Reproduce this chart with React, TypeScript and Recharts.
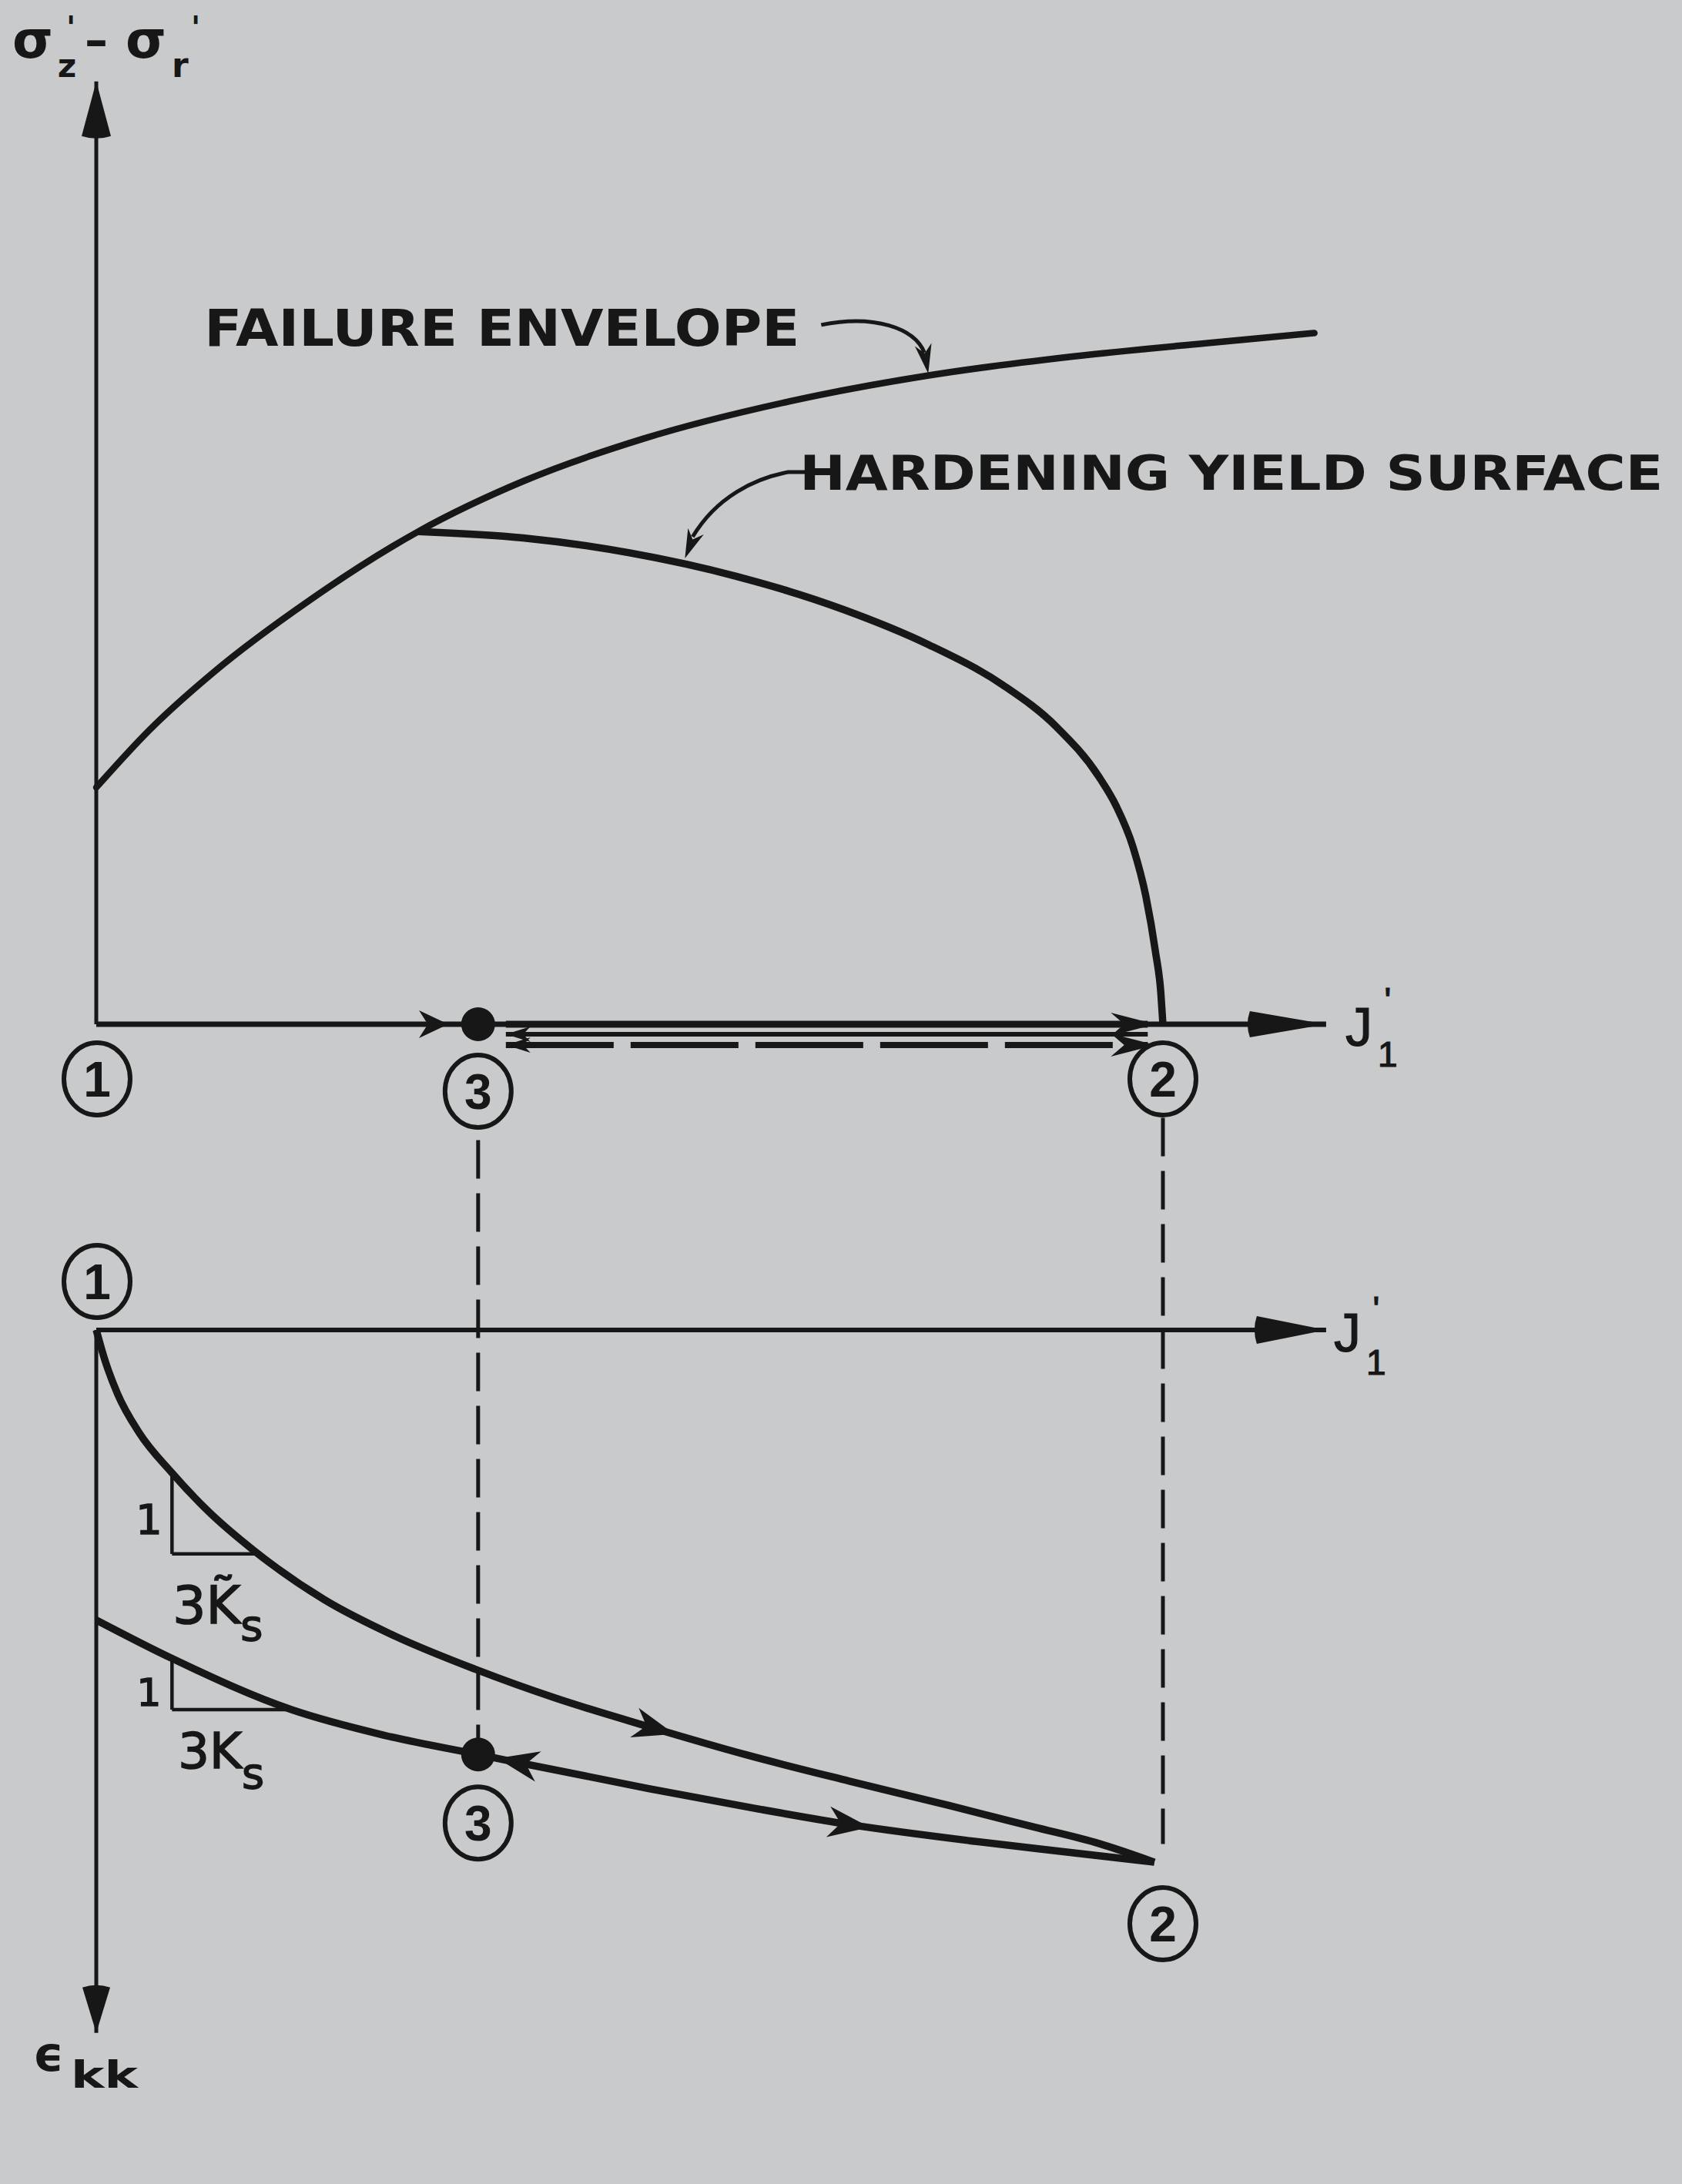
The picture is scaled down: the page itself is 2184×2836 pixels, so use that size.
import React from "react";
import { ComposedChart, Line, XAxis, YAxis, ReferenceLine, ReferenceDot } from "recharts";

const W = 2184;
const H = 2836;
const PX = 13.85; // pixels per unit, identical on every axis
const X0 = 125; // pixel column of J'1 = 0
const Q0 = 1330; // pixel row of the stress origin (upper diagram)
const E0 = 1727; // pixel row of the strain origin (lower diagram)

const INK = "#171717";
const PAPER = "#c8cacc";
const LETTER = "'DejaVu Sans', sans-serif";
const MATH = "'Liberation Sans', Arial, sans-serif";

// upper diagram: sigma'z - sigma'r against J'1
const envelopeJ = [0, 5, 11, 20, 30.2, 40, 51.3, 65, 78.5, 91.5, 104, 114.2];
const envelopeQ = [22.2, 27.6, 33.0, 39.75, 46.2, 50.9, 54.9, 58.4, 60.9, 62.6, 63.85, 64.8];

const yieldJ = [30.2, 40, 50, 60, 70, 78, 85, 90, 94, 95.6, 97.2, 98.4, 99.3, 99.8, 100];
const yieldQ = [46.2, 45.6, 44.2, 42.0, 38.9, 35.6, 31.8, 27.9, 23.2, 20.5, 16.6, 12.0, 6.8, 3.0, 0];

// lower diagram: volumetric strain (plotted downward) against J'1
const loadingJ = [0, 0.8, 2, 4, 7.1, 10.5, 14.8, 21.4, 28, 35.5, 43, 51.8, 61, 70.6, 80, 87.9, 94, 99.2];
const loadingE = [0, 2.8, 6.0, 9.6, 13.4, 17.0, 20.7, 25.3, 28.7, 31.8, 34.5, 37.2, 39.85, 42.3, 44.6, 46.6, 48.15, 49.9];

const elasticJ = [0, 7.1, 18.3, 27, 35.8, 51.8, 62, 70.8, 82, 91, 99.2];
const elasticE = [27.2, 30.8, 35.6, 38.0, 39.8, 43.0, 44.9, 46.4, 47.9, 48.95, 49.9];

// states 1, 2, 3
const stateJ = [0, 100, 35.8];
const stateE = [0, 49.9, 39.8];

// axis extents
const J_MAX = 115.3;
const Q_MAX = 88.4;
const E_MAX = 65.9;

// 3 -> 2 -> 3 path drawn beside the J'1 axis
const cycleJ = [38.4, 99.3];

// slope triangles (J of vertical leg / right corner, e of top / bottom)
const tildeTriJ = [7.1, 14.8];
const tildeTriE = [13.4, 21.0];
const elasticTriJ = [7.1, 18.3];
const elasticTriE = [30.8, 35.6];

// projection lines between the diagrams
const guideJ = [35.8, 100];
const guideTop = [-17.8, -19.9];
const guideBottom = [39.8, 48.2];

const X_DOMAIN = [-X0 / PX, (W - X0) / PX];
const Q_DOMAIN = [-(H - Q0) / PX, Q0 / PX];
const E_DOMAIN = [-E0 / PX, (H - E0) / PX];

const zip = (xs: number[], ys: number[], key: string) => xs.map((J, i) => ({ J, [key]: ys[i] }));

const envelope = zip(envelopeJ, envelopeQ, "q");
const yieldSurface = zip(yieldJ, yieldQ, "q");
const loading = zip(loadingJ, loadingE, "e");
const elastic = zip(elasticJ, elasticE, "e");

// position and direction on a polyline at a given J (axes share one scale)
function along(xs: number[], ys: number[], J: number) {
  let i = 0;
  while (i < xs.length - 2 && xs[i + 1] < J) i++;
  const t = (J - xs[i]) / (xs[i + 1] - xs[i]);
  const y = ys[i] + t * (ys[i + 1] - ys[i]);
  const deg = (Math.atan2(ys[i + 1] - ys[i], xs[i + 1] - xs[i]) * 180) / Math.PI;
  return { y, deg };
}

const notchedHead = (L: number, w: number) => `M0,0 L${-L},${-w} L${-L * 0.7},0 L${-L},${w} Z`;
const taperedHead = (L: number, w: number) => `M0,0 L${-L},${-w} Q${-L - 6},0 ${-L},${w} Z`;

const axisArrow = (L: number, w: number, width: number) => (p: any) => {
  const deg = (Math.atan2(p.y2 - p.y1, p.x2 - p.x1) * 180) / Math.PI;
  return (
    <g>
      <line x1={p.x1} y1={p.y1} x2={p.x2} y2={p.y2} stroke={INK} strokeWidth={width} />
      <path d={taperedHead(L, w)} transform={`translate(${p.x2},${p.y2}) rotate(${deg})`} fill={INK} />
    </g>
  );
};

const besideAxis =
  (dy: number, width: number, dash: string | undefined, startHead: boolean, endHead: boolean) => (p: any) => {
    const y = p.y1 + dy;
    return (
      <g>
        <line x1={p.x1} y1={y} x2={p.x2 - 10} y2={y} stroke={INK} strokeWidth={width} strokeDasharray={dash} />
        {startHead && <path d={notchedHead(32, 10)} transform={`translate(${p.x1},${y}) rotate(180)`} fill={INK} />}
        {endHead && <path d={notchedHead(58, 15)} transform={`translate(${p.x2},${y})`} fill={INK} />}
      </g>
    );
  };

function note(key: string, J: number, y: number, axis: "q" | "e", draw: React.ReactNode) {
  return (
    <ReferenceDot
      key={key}
      x={J}
      y={y}
      yAxisId={axis}
      r={1}
      ifOverflow="visible"
      shape={(p: any) => <g transform={`translate(${p.cx},${p.cy})`}>{draw}</g>}
    />
  );
}

function circled(digit: string, dx: number, dy: number) {
  return (
    <g transform={`translate(${dx},${dy})`}>
      <ellipse rx={43} ry={47} fill={PAPER} stroke={INK} strokeWidth={6} />
      <text y={23} textAnchor="middle" fontFamily={MATH} fontWeight="bold" fontSize={64} fill={INK}>
        {digit}
      </text>
    </g>
  );
}

function arrowOn(key: string, xs: number[], ys: number[], J: number, back: boolean) {
  const { y, deg } = along(xs, ys, J);
  return note(
    key,
    J,
    y,
    "e",
    <path d={notchedHead(54, 20)} transform={`rotate(${back ? deg + 180 : deg})`} fill={INK} />
  );
}

function primedJ(jdx: number, primeDy: number, subDy: number, subDx: number) {
  return (
    <g fill={INK} stroke={INK} strokeWidth={1.2} fontFamily={MATH}>
      <text x={jdx} y={28} fontSize={70}>J</text>
      <text x={subDx} y={primeDy} fontSize={46} textAnchor="middle">'</text>
      <text x={subDx} y={subDy} fontSize={46} textAnchor="middle">1</text>
    </g>
  );
}

const CURVE = 9.5;

export default function App() {
  return (
    <div style={{ position: "absolute", left: 0, top: 0, width: W, height: H, background: PAPER }}>
      <ComposedChart width={W} height={H} margin={{ top: 0, right: 0, bottom: 0, left: 0 }}>
        <XAxis dataKey="J" type="number" domain={X_DOMAIN} allowDataOverflow hide />
        <YAxis yAxisId="q" type="number" domain={Q_DOMAIN} allowDataOverflow hide />
        <YAxis yAxisId="e" type="number" domain={E_DOMAIN} reversed allowDataOverflow hide />

        {/* projection lines linking the two diagrams */}
        {guideJ.map((J, i) => (
          <ReferenceLine
            key={`guide-${i}`}
            yAxisId="e"
            segment={[{ x: J, y: guideTop[i] }, { x: J, y: guideBottom[i] }]}
            stroke={INK}
            strokeWidth={5}
            strokeDasharray="50 19"
            ifOverflow="visible"
          />
        ))}

        {/* axes */}
        <ReferenceLine yAxisId="q" segment={[{ x: 0, y: 0 }, { x: 0, y: Q_MAX }]} shape={axisArrow(71, 19, 5)} ifOverflow="visible" />
        <ReferenceLine yAxisId="q" segment={[{ x: 0, y: 0 }, { x: J_MAX, y: 0 }]} shape={axisArrow(99, 17, 7)} ifOverflow="visible" />
        <ReferenceLine yAxisId="e" segment={[{ x: 0, y: 0 }, { x: J_MAX, y: 0 }]} shape={axisArrow(90, 18, 6)} ifOverflow="visible" />
        <ReferenceLine yAxisId="e" segment={[{ x: 0, y: 0 }, { x: 0, y: E_MAX }]} shape={axisArrow(59, 18, 5)} ifOverflow="visible" />

        {/* 3 -> 2 and back along the J'1 axis */}
        <ReferenceLine
          yAxisId="q"
          segment={[{ x: cycleJ[0], y: 0 }, { x: cycleJ[1], y: 0 }]}
          shape={besideAxis(0, 9, undefined, false, true)}
          ifOverflow="visible"
        />
        <ReferenceLine
          yAxisId="q"
          segment={[{ x: cycleJ[0], y: 0 }, { x: cycleJ[1], y: 0 }]}
          shape={besideAxis(13, 6, undefined, true, false)}
          ifOverflow="visible"
        />
        <ReferenceLine
          yAxisId="q"
          segment={[{ x: cycleJ[0], y: 0 }, { x: cycleJ[1], y: 0 }]}
          shape={besideAxis(27, 8, "140 22", true, true)}
          ifOverflow="visible"
        />

        {/* slope triangles */}
        {[
          [tildeTriJ, tildeTriE],
          [elasticTriJ, elasticTriE],
        ].map(([tj, te], i) => (
          <React.Fragment key={`tri-${i}`}>
            <ReferenceLine yAxisId="e" segment={[{ x: tj[0], y: te[0] }, { x: tj[0], y: te[1] }]} stroke={INK} strokeWidth={4.5} ifOverflow="visible" />
            <ReferenceLine yAxisId="e" segment={[{ x: tj[0], y: te[1] }, { x: tj[1], y: te[1] }]} stroke={INK} strokeWidth={4.5} ifOverflow="visible" />
          </React.Fragment>
        ))}

        <Line data={envelope} dataKey="q" yAxisId="q" type="monotone" stroke={INK} strokeWidth={8.5} strokeLinecap="round" dot={false} activeDot={false} isAnimationActive={false} />
        <Line data={yieldSurface} dataKey="q" yAxisId="q" type="monotone" stroke={INK} strokeWidth={CURVE} dot={false} activeDot={false} isAnimationActive={false} />
        <Line data={loading} dataKey="e" yAxisId="e" type="monotone" stroke={INK} strokeWidth={CURVE} dot={false} activeDot={false} isAnimationActive={false} />
        <Line data={elastic} dataKey="e" yAxisId="e" type="monotone" stroke={INK} strokeWidth={CURVE} dot={false} activeDot={false} isAnimationActive={false} />

        {/* direction arrows */}
        {note("load-13", 33, 0, "q", <path d={notchedHead(38, 18)} fill={INK} />)}
        {arrowOn("load-arrow", loadingJ, loadingE, 54.2, false)}
        {arrowOn("unload-arrow", elasticJ, elasticE, 37.6, true)}
        {arrowOn("reload-arrow", elasticJ, elasticE, 72.5, false)}

        {/* state 3 markers */}
        <ReferenceDot yAxisId="q" x={stateJ[2]} y={0} r={22} fill={INK} stroke="none" ifOverflow="visible" />
        <ReferenceDot yAxisId="e" x={stateJ[2]} y={stateE[2]} r={22} fill={INK} stroke="none" ifOverflow="visible" />

        {/* circled state numbers */}
        {note("u1", stateJ[0], 0, "q", circled("1", 1, 71))}
        {note("u3", stateJ[2], 0, "q", circled("3", 0, 87))}
        {note("u2", stateJ[1], 0, "q", circled("2", 0, 71))}
        {note("l1", stateJ[0], stateE[0], "e", circled("1", 1, -63))}
        {note("l3", stateJ[2], stateE[2], "e", circled("3", 0, 89))}
        {note("l2", stateJ[1], stateE[1], "e", circled("2", 0, 80))}

        {/* axis titles */}
        {note(
          "q-title",
          0,
          Q_MAX,
          "q",
          <g fill={INK} fontFamily={LETTER} fontWeight="bold">
            <text x={-109} y={-31} fontSize={68}>σ</text>
            <text x={-33} y={-56} fontSize={40} textAnchor="middle">'</text>
            <text x={-38} y={-6} fontSize={42} textAnchor="middle">z</text>
            <text x={-15} y={-33} fontSize={60}>–</text>
            <text x={38} y={-31} fontSize={68}>σ</text>
            <text x={129} y={-56} fontSize={40} textAnchor="middle">'</text>
            <text x={98} y={-6} fontSize={44}>r</text>
          </g>
        )}
        {note(
          "e-title",
          0,
          E_MAX,
          "e",
          <g fill={INK} fontFamily={LETTER} fontWeight="bold">
            <text x={-82} y={49} fontSize={62}>ϵ</text>
            <text x={-33} y={71} fontSize={48} textLength={87} lengthAdjust="spacingAndGlyphs">kk</text>
          </g>
        )}
        {note("j-upper", J_MAX, 0, "q", primedJ(25, -15, 55, 80))}
        {note("j-lower", J_MAX, 0, "e", primedJ(10, -11, 58, 65))}

        {/* curve labels with leaders */}
        {note(
          "failure",
          78,
          60.8,
          "q",
          <g>
            <text x={-940} y={-39} fontFamily={LETTER} fontWeight="bold" fontSize={66} textLength={773} lengthAdjust="spacingAndGlyphs" fill={INK}>
              FAILURE ENVELOPE
            </text>
            <path d="M-139,-66 C-70,-80 -18,-62 -5,-30" fill="none" stroke={INK} strokeWidth={5} />
            <path d={notchedHead(38, 11)} transform="translate(0,-3) rotate(80)" fill={INK} />
          </g>
        )}
        {note(
          "hardening",
          54.9,
          43.1,
          "q",
          <g>
            <text x={153} y={-97} fontFamily={LETTER} fontWeight="bold" fontSize={63} textLength={1121} lengthAdjust="spacingAndGlyphs" fill={INK}>
              HARDENING YIELD SURFACE
            </text>
            <path d="M160,-120 L138,-120 C95,-112 45,-88 14,-36" fill="none" stroke={INK} strokeWidth={5} />
            <path d={notchedHead(38, 11)} transform="translate(4,-8) rotate(112)" fill={INK} />
          </g>
        )}

        {/* slope labels */}
        {note(
          "tilde-k",
          tildeTriJ[0],
          tildeTriE[1],
          "e",
          <g fill={INK} stroke={INK} strokeWidth={1.6} fontFamily={LETTER}>
            <text x={-30} y={-26} fontSize={54} textAnchor="middle">1</text>
            <text x={1} y={90} fontSize={68}>
              3K̃<tspan dy={22} fontSize={56}>s</tspan>
            </text>
          </g>
        )}
        {note(
          "k",
          elasticTriJ[0],
          elasticTriE[1],
          "e",
          <g fill={INK} stroke={INK} strokeWidth={1.6} fontFamily={LETTER}>
            <text x={-30} y={-5} fontSize={50} textAnchor="middle">1</text>
            <text x={8} y={76} fontSize={64}>
              3K<tspan dy={26} fontSize={56}>s</tspan>
            </text>
          </g>
        )}
      </ComposedChart>
    </div>
  );
}
